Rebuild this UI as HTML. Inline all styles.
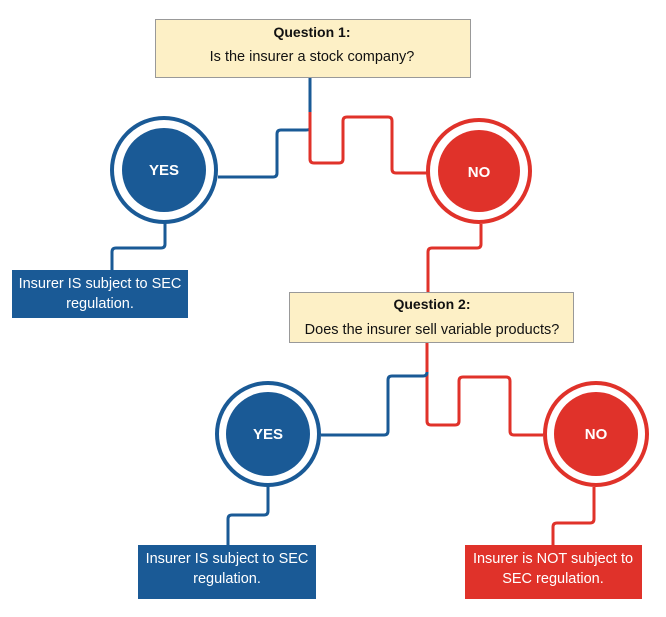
<!DOCTYPE html>
<html><head><style>
body{margin:0;background:#fff;}
svg text{font-family:"Liberation Sans",sans-serif;}
</style></head><body>
<svg width="666" height="612" viewBox="0 0 666 612" xmlns="http://www.w3.org/2000/svg">
<g fill="none" stroke-width="3" stroke-linejoin="round">
<path d="M310 77 V128 Q310 130 306 130 H281 Q277 130 277 134 V173 Q277 177 273 177 H218" stroke="#1a5a96"/>
<path d="M310 112 V159 Q310 163 314 163 H339 Q343 163 343 159 V121 Q343 117 347 117 H388 Q392 117 392 121 V169 Q392 173 396 173 H428" stroke="#e0322a"/>
<path d="M481 224 V244 Q481 248 477 248 H432 Q428 248 428 252 V292" stroke="#e0322a"/>
<path d="M165 223 V244 Q165 248 161 248 H116 Q112 248 112 252 V270" stroke="#1a5a96"/>
<path d="M427 342 V421 Q427 425 431 425 H455 Q459 425 459 421 V381 Q459 377 463 377 H506 Q510 377 510 381 V431 Q510 435 514 435 H543" stroke="#e0322a"/>
<path d="M427 372 Q427 376 423 376 H392 Q388 376 388 380 V431 Q388 435 384 435 H321" stroke="#1a5a96"/>
<path d="M268 486 V511 Q268 515 264 515 H232 Q228 515 228 519 V545" stroke="#1a5a96"/>
<path d="M594 487 V519 Q594 523 590 523 H557 Q553 523 553 527 V545" stroke="#e0322a"/>
</g>
<rect x="155.5" y="19.5" width="315" height="58" fill="#fdf0c6" stroke="#999"/>
<text x="312" y="37" text-anchor="middle" font-size="14" font-weight="bold" fill="#111">Question 1:</text>
<text x="312" y="61" text-anchor="middle" font-size="14.5" fill="#111">Is the insurer a stock company?</text>
<rect x="289.5" y="292.5" width="284" height="50" fill="#fdf0c6" stroke="#999"/>
<text x="432" y="309" text-anchor="middle" font-size="14" font-weight="bold" fill="#111">Question 2:</text>
<text x="432" y="334" text-anchor="middle" font-size="14.5" fill="#111">Does the insurer sell variable products?</text>
<g stroke-width="4" fill="#fff">
<circle cx="164" cy="170" r="52" stroke="#1a5a96"/>
<circle cx="479" cy="171" r="51" stroke="#e0322a"/>
<circle cx="268" cy="434" r="51" stroke="#1a5a96"/>
<circle cx="596" cy="434" r="51" stroke="#e0322a"/>
</g>
<circle cx="164" cy="170" r="42" fill="#1a5a96"/>
<circle cx="479" cy="171" r="41" fill="#e0322a"/>
<circle cx="268" cy="434" r="42" fill="#1a5a96"/>
<circle cx="596" cy="434" r="42" fill="#e0322a"/>
<g font-size="15" font-weight="bold" fill="#fff" text-anchor="middle">
<text x="164" y="175">YES</text>
<text x="479" y="177">NO</text>
<text x="268" y="439">YES</text>
<text x="596" y="439">NO</text>
</g>
<rect x="12" y="270" width="176" height="48" fill="#1a5a96"/>
<rect x="138" y="545" width="178" height="54" fill="#1a5a96"/>
<rect x="465" y="545" width="177" height="54" fill="#e0322a"/>
<g font-size="14.5" fill="#fff" text-anchor="middle">
<text x="100" y="288">Insurer IS subject to SEC</text>
<text x="100" y="308">regulation.</text>
<text x="227" y="563">Insurer IS subject to SEC</text>
<text x="227" y="583">regulation.</text>
<text x="553" y="563">Insurer is NOT subject to</text>
<text x="553" y="583">SEC regulation.</text>
</g>
</svg>
</body></html>
